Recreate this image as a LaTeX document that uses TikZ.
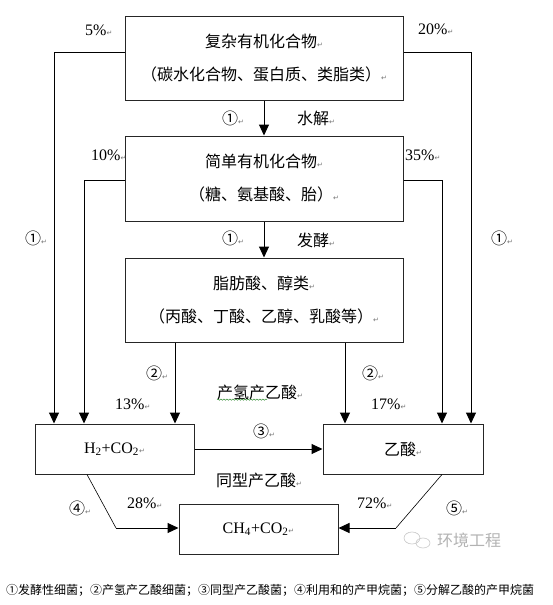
\documentclass[tikz,border=0pt]{standalone}
\usepackage{fontspec}
\setmainfont{Liberation Serif}
\newfontfamily\cjk{Noto Sans CJK SC}
\newfontfamily\symfont{DejaVu Sans}
\usetikzlibrary{arrows.meta,positioning,calc,decorations.pathmorphing}
\definecolor{markgray}{rgb}{0.45,0.45,0.45}
\definecolor{wavegreen}{rgb}{0.2,0.55,0.2}
\newcommand{\parmark}{{\symfont\fontsize{7}{7}\selectfont\textcolor{markgray}{↵}}}
\tikzset{
  box/.style={draw=black!85, line width=1pt, inner sep=0pt, align=center, font=\cjk\fontsize{16}{33}\selectfont},
  flow/.style={line width=1pt, -{Triangle[length=11pt,width=10pt]}},
  pct/.style={anchor=west, inner sep=0pt, font=\fontsize{16}{16}\selectfont},
  tag/.style={anchor=west, inner sep=0pt, font=\cjk\fontsize{16}{16}\selectfont},
}
\begin{document}
\begin{tikzpicture}[x=1pt,y=-1pt]
\useasboundingbox (0,0) rectangle (552,605);
% boxes
\node[box, minimum width=278pt, minimum height=84pt] (cpx) at (264,58) {复杂有机化合物\parmark\\（碳水化合物、蛋白质、类脂类）\parmark};
\node[box, minimum width=278pt, minimum height=85pt] (smp) at (264,178.5) {简单有机化合物\parmark\\（糖、氨基酸、胎）\parmark};
\node[box, minimum width=278pt, minimum height=84pt] (fat) at (264,300) {脂肪酸、醇类\parmark\\（丙酸、丁酸、乙醇、乳酸等）\parmark};
\node[box, minimum width=159pt, minimum height=50pt, font=\fontsize{16}{16}\selectfont] (hco) at (114.5,449) {H\textsubscript{2}+CO\textsubscript{2}\parmark};
\node[box, minimum width=160pt, minimum height=50pt] (ace) at (403,449) {乙酸\parmark};
\node[box, minimum width=159pt, minimum height=50pt, font=\fontsize{16}{16}\selectfont] (mth) at (258.5,529) {CH\textsubscript{4}+CO\textsubscript{2}\parmark};
% bends
\coordinate (ol) at (54,52);
\coordinate (or) at (471,52);
\coordinate (il) at (84,180);
\coordinate (ir) at (442,180);
\coordinate (fl) at (175,0);
\coordinate (fr) at (345,0);
\coordinate (t4) at (87,0);
\coordinate (b4) at (116,528);
\coordinate (t5) at (442,0);
\coordinate (b5) at (396,528);
% connectors
\draw[flow] (cpx) -- (smp);
\draw[flow] (smp) -- (fat);
\draw[flow] (cpx.west |- ol) -| (hco.north -| ol);
\draw[flow] (cpx.east |- or) -| (ace.north -| or);
\draw[flow] (smp.west |- il) -| (hco.north -| il);
\draw[flow] (smp.east |- ir) -| (ace.north -| ir);
\draw[flow] (fat.south -| fl) -- (hco.north -| fl);
\draw[flow] (fat.south -| fr) -- (ace.north -| fr);
\draw[flow] (hco) -- (ace);
\draw[line width=0.6pt] (hco.south -| t4) -- (b4);
\draw[flow] (b4) -- (b4 -| mth.west);
\draw[line width=0.6pt] (ace.south -| t5) -- (b5);
\draw[flow] (b5) -- (b5 -| mth.east);
% labels
\node[pct] (p5) at (85,30) {5\%\parmark};
\node[pct] (p20) at (418,29) {20\%\parmark};
\node[tag] (n1a) at (222,118) {①\parmark};
\node[tag] (hyd) at (297,118) {水解\parmark};
\node[pct] (p10) at (91,155) {10\%\parmark};
\node[pct] (p35) at (405,155) {35\%\parmark};
\node[tag] (n1l) at (25,238) {①\parmark};
\node[tag] (n1r) at (491,238) {①\parmark};
\node[tag] (n1b) at (222,238) {①\parmark};
\node[tag] (fer) at (297,240) {发酵\parmark};
\node[tag] (n2l) at (146,373) {②\parmark};
\node[tag] (n2r) at (362,373) {②\parmark};
\node[tag] (hpa) at (217,392) {产氢产乙酸\parmark};
\draw[wavegreen, line width=0.5pt, decorate, decoration={snake, amplitude=0.6pt, segment length=3pt}] (hpa.south west) -- ++(50,0);
\node[pct] (p13) at (115,404) {13\%\parmark};
\node[pct] (p17) at (371,404) {17\%\parmark};
\node[tag] (n3) at (253,431) {③\parmark};
\node[tag] (hom) at (216,480) {同型产乙酸\parmark};
\node[tag] (n4) at (69,508) {④\parmark};
\node[pct] (p28) at (127,503) {28\%\parmark};
\node[pct] (p72) at (357,503) {72\%\parmark};
\node[tag] (n5) at (446,508) {⑤\parmark};
% watermark
\draw[black!22, line width=0.6pt] (412,538) ellipse (8 and 6);
\draw[black!22, line width=0.6pt] (423,543) ellipse (7 and 5);
\node[anchor=west, inner sep=0pt, text=black!30, font=\cjk\fontsize{16}{16}\selectfont] (wm) at (437,540) {环境工程};
% legend
\node[anchor=west, inner sep=0pt, font=\cjk\fontsize{12}{12}\selectfont] (legend) at (6,590) {①发酵性细菌；②产氢产乙酸细菌；③同型产乙酸菌；④利用和的产甲烷菌；⑤分解乙酸的产甲烷菌};
\end{tikzpicture}
\end{document}
